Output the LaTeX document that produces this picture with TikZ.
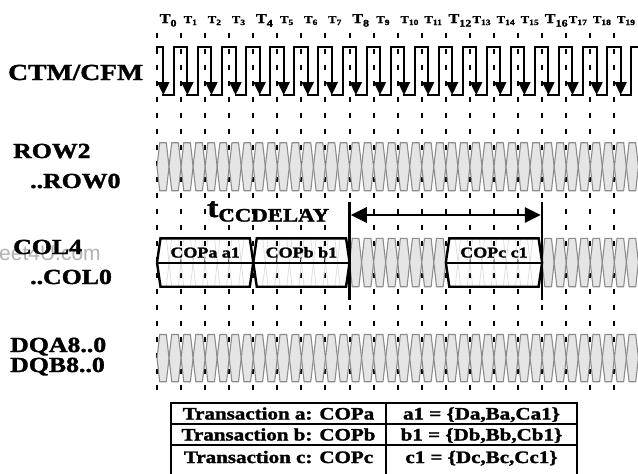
\documentclass[tikz,border=0pt]{standalone}
\usepackage{fontspec}
\setmainfont{Liberation Serif}[BoldFeatures={FakeBold=1.5}]
\setsansfont{Liberation Sans}
\usepackage{graphicx}
\usetikzlibrary{arrows.meta}
\newcommand{\wide}[1]{\scalebox{1.2}[1]{#1}}
\newcommand{\fs}[1]{\fontsize{#1}{#1}\selectfont}

\begin{document}
\begin{tikzpicture}[x=1pt,y=-1pt,
  tick/.style={line width=2pt, dash pattern=on 5pt off 11pt},
  clk/.style={line width=2pt, line cap=rect},
  eye/.style={draw=black!45, fill=black!10, line width=1.1pt, line join=round},
  ghost/.style={draw=black!12, line width=0.8pt},
  packet/.style={draw=black, line width=2.4pt},
  bar/.style={line width=2.5pt},
  sig/.style={font=\bfseries\fs{21.5}, anchor=base west},
  tcell/.style={font=\bfseries\fs{17.5}, anchor=base}]
\tikzstyle{every node}+=[inner sep=0pt]
\fill[white] (0,0) rectangle (638,474);
\useasboundingbox (0,0) rectangle (638,474);

% clock ticks T0..T19
\foreach \i in {0,...,19}{
  \pgfmathsetmacro\tx{157+\i*24.07}
  \pgfmathtruncatemacro\isbig{mod(\i,4)==0 ? 1 : 0}
  \draw[tick] (\tx,33) -- (\tx,395);
  \ifnum\isbig=1
    \node[anchor=base west, font=\bfseries] at (\tx+2.5,23) {\wide{\fs{13.5}T\raisebox{-3.5pt}{\fs{10}\i}}};
  \else
    \node[anchor=base west, font=\bfseries] at (\tx+2.5,23) {\wide{\fs{10.5}T\raisebox{-2pt}{\fs{8}\i}}};
  \fi
}

% CTM/CFM
\foreach \i in {0,...,19}{
  \pgfmathsetmacro\tx{157+\i*24.07}
  \ifnum\i=0
    \draw[clk] (\tx,50) -- (\tx,46.5) -- (\tx+6.3,46.5);
  \else
    \draw[clk] (\tx-7,94.5) -- (\tx-7,46.5) -- (\tx+6.3,46.5);
  \fi
  \draw[line width=2pt, -{Triangle[length=13pt,width=12pt]}] (\tx+6.3,46.5) -- (\tx+6.3,95);
  \draw[clk] (\tx+6.3,94.5) -- (\tx+17.07,94.5);
}
\draw[clk] (631.4,94.5) -- (631.4,46.5) -- (640,46.5);

% bus cells
\foreach \k in {0,...,39}{
  \pgfmathsetmacro\xa{157+\k*12.035}
  \pgfmathsetmacro\xb{\xa+12.035}
  \foreach \ya/\yb in {142.7/190.7, 334.5/381.7}{
    \draw[eye] (\xa,{(\ya+\yb)/2}) -- (\xa+2.7,\ya) -- (\xb-2.7,\ya) -- (\xb,{(\ya+\yb)/2}) -- (\xb-2.7,\yb) -- (\xa+2.7,\yb) -- cycle;
  }
  \pgfmathtruncatemacro\inpk{(\k<16 || (\k>23 && \k<32)) ? 1 : 0}
  \ifnum\inpk=1
    \draw[ghost] (\xa,262.5) -- (\xa+2.7,238.3) -- (\xb-2.7,238.3) -- (\xb,262.5) -- (\xb-2.7,286.7) -- (\xa+2.7,286.7) -- cycle;
  \else
    \draw[eye] (\xa,262.5) -- (\xa+2.7,238.3) -- (\xb-2.7,238.3) -- (\xb,262.5) -- (\xb-2.7,286.7) -- (\xa+2.7,286.7) -- cycle;
  \fi
}

% COL packets
\foreach \xa/\xb/\txt in {157/253.28/COPa a1, 253.28/349.56/COPb b1, 445.84/542.12/COPc c1}{
  \draw[packet] (\xa,262.5) -- (\xa+3.5,238.3) -- (\xb-3.5,238.3) -- (\xb,262.5) -- (\xb-3.5,286.7) -- (\xa+3.5,286.7) -- cycle;
  \draw[packet, line width=2pt] (\xa,262.5) -- (\xb,262.5);
  \node[font=\bfseries\fs{15}, anchor=base] at ({(\xa+\xb)/2},257.5) {\wide{\txt}};
}

% tCCDELAY
\draw[bar] (349.56,201.5) -- (349.56,300);
\draw[bar] (542.12,201.5) -- (542.12,300);
\draw[line width=2.8pt, {Triangle[length=16pt,width=15pt]}-{Triangle[length=16pt,width=15pt]}] (350.8,215) -- (540.9,215);
\node[anchor=base west, font=\bfseries] (tccd) at (207,217) {\wide{\fs{28}t\raisebox{-4.5pt}{\fs{19}CCDELAY}}};

% signal names
\node[anchor=base west, font=\sffamily\fs{21}, text=black!30] (wm) at (-1,260) {eet4U.com};
\node[sig, font=\bfseries\fs{23}] (ctm) at (8,80) {\wide{CTM/CFM}};
\node[sig] (row2) at (13,158) {\wide{ROW2}};
\node[sig] (row0) at (30,188) {\wide{..ROW0}};
\node[sig] (col4) at (13,254) {\wide{COL4}};
\node[sig] (col0) at (30,284) {\wide{..COL0}};
\node[sig] (dqa) at (10,352) {\wide{DQA8..0}};
\node[sig] (dqb) at (10,372) {\wide{DQB8..0}};

% transaction table
\draw[line width=2pt] (171,475) -- (171,403) -- (577,403) -- (577,475);
\draw[line width=2pt] (386,403) -- (386,475);
\draw[line width=2pt] (171,424) -- (577,424);
\draw[line width=2pt] (171,445) -- (577,445);
\node[tcell] at (278.5,419.5) {\wide{Transaction a: COPa}};
\node[tcell] at (481.5,419.5) {\wide{a1 = \{Da,Ba,Ca1\}}};
\node[tcell] at (278.5,440.5) {\wide{Transaction b: COPb}};
\node[tcell] at (481.5,440.5) {\wide{b1 = \{Db,Bb,Cb1\}}};
\node[tcell] at (278.5,463) {\wide{Transaction c: COPc}};
\node[tcell] at (481.5,463) {\wide{c1 = \{Dc,Bc,Cc1\}}};
\end{tikzpicture}
\end{document}
